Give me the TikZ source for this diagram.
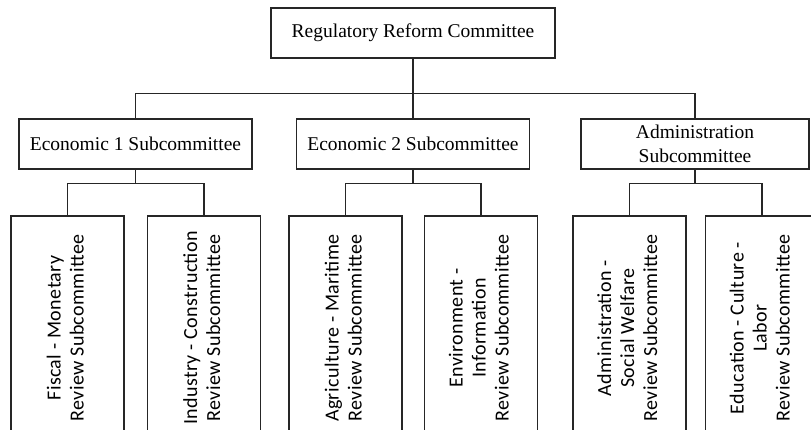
\documentclass[tikz,border=0pt]{standalone}
\usepackage{fontspec}
\usepackage{graphicx}
\setmainfont{Liberation Serif}
\newfontfamily\reviewfont{Carlito}[LetterSpace=2]
\newcommand\uplines[1]{\rotatebox{90}{\begin{tabular}{@{}c@{}}#1\end{tabular}}}

\begin{document}
\begin{tikzpicture}[x=1pt,y=-1pt]
\tikzset{unit/.style={draw=black!85, line width=1.4pt, inner sep=0pt, minimum height=50pt,
    align=center, font=\fontsize{19.5}{24}\selectfont}}
\tikzset{review/.style={draw=black!85, line width=1.4pt, inner sep=0pt, minimum width=113pt,
    minimum height=224pt, font=\reviewfont\fontsize{20}{23}\selectfont}}
\tikzset{link/.style={draw=black!85, line width=1.4pt}}
\useasboundingbox (0,0) rectangle (811,430);
\clip (0,0) rectangle (811,430);
% committee and subcommittees
\node[unit,minimum width=284pt] (rrc) at (413,33) {Regulatory Reform Committee};
\node[unit,minimum width=233pt] (eco1) at (135.5,144) {Economic 1 Subcommittee};
\node[unit,minimum width=233pt] (eco2) at (413,144) {Economic 2 Subcommittee};
\node[unit,minimum width=228pt] (adm) at (695,144) {Administration\\Subcommittee};
% review subcommittees
\node[review] (fiscal) at (67.5,328) {\uplines{Fiscal - Monetary\\Review Subcommittee}};
\node[review] (industry) at (204,328) {\uplines{Industry - Construction\\Review Subcommittee}};
\node[review] (agri) at (345.5,328) {\uplines{Agriculture - Maritime\\Review Subcommittee}};
\node[review] (envir) at (481,328) {\uplines{Environment -\\Information\\Review Subcommittee}};
\node[review] (welfare) at (629.5,328) {\uplines{Administration -\\Social Welfare\\Review Subcommittee}};
\node[review] (edu) at (762,328) {\uplines{Education - Culture -\\Labor\\Review Subcommittee}};
% tree lines
\draw[link] (rrc.south) -- ++(0,35) coordinate (bus);
\draw[link] (eco1.north) |- (bus) -| (adm.north);
\draw[link] (bus) -- (eco2.north);
\draw[link] (eco1.south) -- ++(0,14) coordinate (b1);
\draw[link] (fiscal.north) |- (b1) -| (industry.north);
\draw[link] (eco2.south) -- ++(0,14) coordinate (b2);
\draw[link] (agri.north) |- (b2) -| (envir.north);
\draw[link] (adm.south) -- ++(0,14) coordinate (b3);
\draw[link] (welfare.north) |- (b3) -| (edu.north);
\end{tikzpicture}
\end{document}
